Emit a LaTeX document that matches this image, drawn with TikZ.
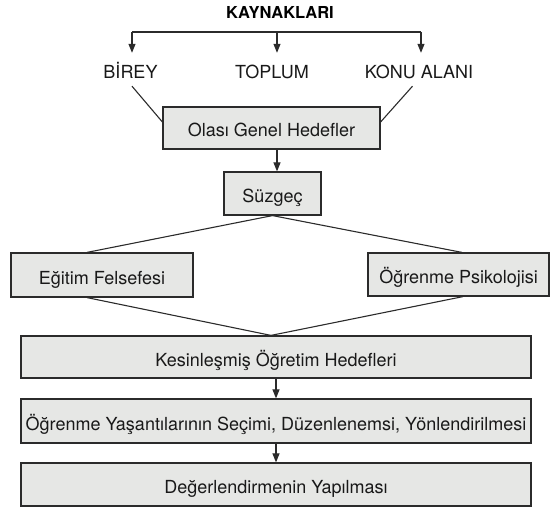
\documentclass[tikz,border=0pt]{standalone}
\usepackage{fontspec}
\setmainfont{TeX Gyre Heros}
\usetikzlibrary{arrows.meta}
\definecolor{boxgray}{HTML}{E6E7E5}
\definecolor{edgegray}{HTML}{2B2B2B}
\tikzset{
  flowbox/.style={draw=edgegray, fill=boxgray, line width=1.2pt, inner sep=0pt,
    text height=18pt, text depth=0pt, font=\fontsize{18}{20}\selectfont, text=black!90},
  srclabel/.style={inner sep=0pt, text height=13pt, text depth=0pt,
    font=\fontsize{18}{20}\selectfont, text=black!90},
  conn/.style={draw=edgegray, line width=1.1pt},
  arr/.style={conn, -{Triangle[width=7pt,length=9pt]}},
}
\begin{document}
\begin{tikzpicture}[x=1pt,y=-1pt]
\useasboundingbox (0,0) rectangle (555,508);

% title
\node[inner sep=0pt, text height=11.5pt, text depth=0pt,
      font=\bfseries\fontsize{16.5}{18}\selectfont, text=black] (kay) at (280,12.5) {KAYNAKLARI};

% source labels
\node[srclabel] (birey) at (130.5,72.5) {BİREY};
\node[srclabel] (toplum) at (272,72.5) {TOPLUM};
\node[srclabel] (konu) at (419,72.5) {KONU ALANI};

% boxes
\node[flowbox, minimum width=217pt, minimum height=42pt] (olasi) at (271.5,128) {Olası Genel Hedefler};
\node[flowbox, minimum width=97pt, minimum height=43pt] (suzgec) at (272.5,193.5) {Süzgeç};
\node[flowbox, minimum width=182pt, minimum height=44pt] (egitim) at (102,275) {Eğitim Felsefesi};
\node[flowbox, minimum width=181pt, minimum height=43pt] (psik) at (458.5,274.5) {Öğrenme Psikolojisi};
\node[flowbox, minimum width=510pt, minimum height=42pt] (kesin) at (276,357) {Kesinleşmiş Öğretim Hedefleri};
\node[flowbox, minimum width=510pt, minimum height=44pt] (yasanti) at (276,421) {Öğrenme Yaşantılarının Seçimi, Düzenlenemsi, Yönlendirilmesi};
\node[flowbox, minimum width=510pt, minimum height=43pt] (deger) at (276,484.5) {Değerlendirmenin Yapılması};

% bracket under title
\coordinate (hl) at (132,32);
\coordinate (hm) at (277,32);
\coordinate (hr) at (421,32);
\draw[conn] (hl) -- (hr);
\draw[arr, shorten >=13pt] (hl) -- (hl |- birey.north);
\draw[arr, shorten >=13pt] (hm) -- (hm |- toplum.north);
\draw[arr, shorten >=13pt] (hr) -- (hr |- konu.north);

% sources to olasi
\draw[conn] ([xshift=1.5pt,yshift=-7pt]birey.south) -- ([yshift=6pt]olasi.west);
\draw[conn] ([xshift=-6.5pt,yshift=-7pt]konu.south) -- ([yshift=6pt]olasi.east);

% olasi to suzgec
\draw[arr] ([xshift=5.5pt]olasi.south) -- ([xshift=4.5pt]suzgec.north);

% suzgec to branches
\draw[conn] (suzgec.south) -- ([xshift=-15pt]egitim.north);
\draw[conn] (suzgec.south) -- ([xshift=3.5pt]psik.north);

% branches to kesin
\draw[conn] ([xshift=-15pt]egitim.south) -- ([xshift=-5pt]kesin.north);
\draw[conn] ([xshift=4.5pt]psik.south) -- ([xshift=-5pt]kesin.north);

% chain
\draw[arr] (kesin.south) -- (yasanti.north);
\draw[arr] (yasanti.south) -- (deger.north);
\end{tikzpicture}
\end{document}
